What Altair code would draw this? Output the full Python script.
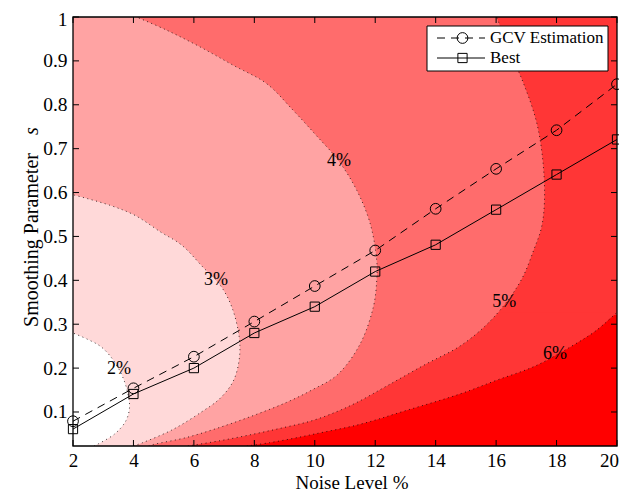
import altair as alt
import pandas as pd

# ---------------- data ----------------
noise = [2, 4, 6, 8, 10, 12, 14, 16, 18, 20]
gcv = [0.079, 0.154, 0.226, 0.306, 0.387, 0.468, 0.563, 0.654, 0.742, 0.847]
best = [0.061, 0.141, 0.200, 0.280, 0.340, 0.420, 0.481, 0.561, 0.641, 0.721]

x_ticks = [2, 4, 6, 8, 10, 12, 14, 16, 18, 20]
y_ticks = [0.1, 0.2, 0.3, 0.4, 0.5, 0.6, 0.7, 0.8, 0.9, 1.0]

# contour boundaries (x as a function of s)
c2_y = [0.0225, 0.05, 0.08, 0.11, 0.14, 0.17, 0.20, 0.23, 0.25, 0.265, 0.28]
c2_x = [2.7, 3.38, 3.75, 3.87, 3.82, 3.70, 3.50, 3.20, 2.90, 2.50, 2.0]

c3_y = [0.0225, 0.03, 0.06, 0.10, 0.13, 0.17, 0.22, 0.27, 0.34, 0.39, 0.43, 0.48, 0.51, 0.548, 0.571, 0.595]
c3_x = [4.0, 4.3, 5.3, 6.25, 6.85, 7.3, 7.5, 7.5, 7.25, 6.86, 6.3, 5.6, 4.9, 4.05, 3.22, 2.0]

c4_y = [0.0225, 0.026, 0.042, 0.065, 0.092, 0.122, 0.15, 0.185, 0.255, 0.34, 0.40, 0.445, 0.53, 0.605,
        0.673, 0.73, 0.787, 0.848, 0.89, 0.932, 0.97, 1.0]
c4_x = [4.5, 4.66, 5.76, 6.86, 7.97, 9.07, 9.9, 10.75, 11.5, 11.94, 12.05, 12.05, 11.83, 11.39,
        10.78, 10.05, 9.29, 8.41, 7.3, 6.2, 5.1, 4.1]

c5_y = [0.0225, 0.035, 0.05, 0.065, 0.08, 0.10, 0.122, 0.16, 0.21, 0.25, 0.30, 0.36, 0.41, 0.47,
        0.52, 0.58, 0.67, 0.76, 0.85, 0.92, 1.0]
c5_x = [5.8, 6.9, 8.0, 9.0, 9.9, 10.7, 11.4, 12.4, 13.7, 14.8, 15.7, 16.45, 16.9, 17.25,
        17.5, 17.6, 17.55, 17.34, 16.9, 16.46, 16.02]

c6_y = [0.0225, 0.03, 0.04, 0.05, 0.072, 0.103, 0.141, 0.172, 0.205, 0.25, 0.285, 0.327]
c6_x = [7.75, 8.5, 9.3, 10.0, 11.5, 13.0, 14.8, 16.0, 17.3, 18.5, 19.3, 20.0]

lab_text = ["2%", "3%", "4%", "5%", "6%"]
lab_x = [3.52, 6.73, 10.8, 16.27, 17.95]
lab_y = [0.199, 0.400, 0.673, 0.350, 0.233]

fills = ["#FFFFFF", "#FFD9D9", "#FFA3A3", "#FF6C6C", "#FF3636", "#FF0000"]

# ---------------- layout ----------------
X0, X1 = 2, 20
Y0, Y1 = 0.0225, 1.0
W, H = 544, 429
FONT = "Liberation Serif"
CURVE = "catmull-rom"

xs = alt.Scale(domain=[X0, X1], nice=False, zero=False)
ys = alt.Scale(domain=[Y0, Y1], nice=False, zero=False)

xa = alt.Axis(values=x_ticks, ticks=False, tickSize=0, domain=False, grid=False, title=None,
              labelFont=FONT, labelFontSize=19, labelColor="black", labelPadding=5,
              labelFlush=False, labelOverlap=False,
              labelOffset={"condition": {"test": "datum.value == 20", "value": -8}, "value": 0})
ya = alt.Axis(values=y_ticks, format="~g", ticks=False, tickSize=0, domain=False, grid=False, title=None,
              labelFont=FONT, labelFontSize=19.5, labelColor="black", labelPadding=6,
              labelFlush=False, labelOverlap=False,
              labelOffset={"condition": {"test": "datum.value == 1", "value": 2}, "value": 0})


def X(f):
    return alt.X(f, type="quantitative", scale=xs, axis=xa)


def Y(f):
    return alt.Y(f, type="quantitative", scale=ys, axis=ya)


def region(xv, yv, color, curve=CURVE):
    df = pd.DataFrame({"x": xv, "y": yv, "x0": [X0] * len(xv)})
    return alt.Chart(df).mark_area(orient="horizontal", fill=color, fillOpacity=1,
                                   interpolate=curve, clip=True).encode(
        y=Y("y"), x=X("x"), x2="x0:Q")


def cline(xv, yv):
    df = pd.DataFrame({"x": xv, "y": yv, "i": list(range(len(xv)))})
    return alt.Chart(df).mark_line(color="black", strokeWidth=1, strokeDash=[1, 3.5],
                                   opacity=0.75, clip=True, interpolate=CURVE).encode(
        y=Y("y"), x=X("x"), order="i:Q")


layers = []
# full-width strip above where the 6% contour meets the right edge (slight overlap hides the seam)
layers.append(region([X1, X1], [c6_y[-1] - 0.006, Y1], fills[4], "linear"))
layers.append(region(c6_x, c6_y, fills[4]))
layers.append(region(c5_x, c5_y, fills[3]))
layers.append(region(c4_x, c4_y, fills[2]))
layers.append(region(c3_x, c3_y, fills[1]))
layers.append(region(c2_x, c2_y, fills[0]))
for cx, cy in [(c2_x, c2_y), (c3_x, c3_y), (c4_x, c4_y), (c5_x, c5_y), (c6_x, c6_y)]:
    layers.append(cline(cx, cy))

labs = pd.DataFrame({"t": lab_text, "x": lab_x, "y": lab_y})
layers.append(alt.Chart(labs).mark_text(font=FONT, fontSize=18, color="black",
                                        align="center", baseline="middle").encode(
    x=X("x"), y=Y("y"), text="t:N"))

df_g = pd.DataFrame({"x": noise, "y": gcv})
df_b = pd.DataFrame({"x": noise, "y": best})
layers.append(alt.Chart(df_g).mark_line(color="black", strokeWidth=1, strokeDash=[8, 6]).encode(
    x=X("x"), y=Y("y")))
layers.append(alt.Chart(df_g).mark_point(shape="circle", filled=False, color="black",
                                         size=115, strokeWidth=1, opacity=1).encode(
    x=X("x"), y=Y("y")))
layers.append(alt.Chart(df_b).mark_line(color="black", strokeWidth=1).encode(
    x=X("x"), y=Y("y")))
layers.append(alt.Chart(df_b).mark_point(shape="square", filled=False, color="black",
                                         size=85, strokeWidth=1, opacity=1).encode(
    x=X("x"), y=Y("y")))

# inward ticks on all four sides
dxt = pd.DataFrame({"v": x_ticks})
dyt = pd.DataFrame({"v": y_ticks})
layers.append(alt.Chart(dxt).mark_rule(color="black", strokeWidth=1).encode(
    x=X("v"), y=alt.value(H), y2=alt.value(H - 6)))
layers.append(alt.Chart(dxt).mark_rule(color="black", strokeWidth=1).encode(
    x=X("v"), y=alt.value(0), y2=alt.value(6)))
layers.append(alt.Chart(dyt).mark_rule(color="black", strokeWidth=1).encode(
    y=Y("v"), x=alt.value(0), x2=alt.value(6)))
layers.append(alt.Chart(dyt).mark_rule(color="black", strokeWidth=1).encode(
    y=Y("v"), x=alt.value(W), x2=alt.value(W - 6)))

one = pd.DataFrame({"a": [0]})
# frame
layers.append(alt.Chart(one).mark_rect(fillOpacity=0, stroke="black", strokeWidth=1.3).encode(
    x=alt.value(0), x2=alt.value(W), y=alt.value(0), y2=alt.value(H)))

# legend
layers.append(alt.Chart(one).mark_rect(fill="white", stroke="black", strokeWidth=1).encode(
    x=alt.value(354), x2=alt.value(535), y=alt.value(9), y2=alt.value(54)))
layers.append(alt.Chart(one).mark_rule(color="black", strokeWidth=1, strokeDash=[8, 6]).encode(
    x=alt.value(364), x2=alt.value(412), y=alt.value(21)))
layers.append(alt.Chart(one).mark_point(shape="circle", filled=False, color="black",
                                        size=115, strokeWidth=1, opacity=1).encode(
    x=alt.value(389.5), y=alt.value(21)))
layers.append(alt.Chart(one).mark_rule(color="black", strokeWidth=1).encode(
    x=alt.value(364), x2=alt.value(412), y=alt.value(41)))
layers.append(alt.Chart(one).mark_point(shape="square", filled=False, color="black",
                                        size=85, strokeWidth=1, opacity=1).encode(
    x=alt.value(389.5), y=alt.value(41)))
layers.append(alt.Chart(one).mark_text(font=FONT, fontSize=17, color="black", align="left",
                                       baseline="middle").encode(
    x=alt.value(417), y=alt.value(21), text=alt.value("GCV Estimation")))
layers.append(alt.Chart(one).mark_text(font=FONT, fontSize=17, color="black", align="left",
                                       baseline="middle").encode(
    x=alt.value(417), y=alt.value(41), text=alt.value("Best")))

# axis titles
layers.append(alt.Chart(one).mark_text(font=FONT, fontSize=19, color="black", align="center",
                                       baseline="alphabetic").encode(
    x=alt.value(279), y=alt.value(471.5), text=alt.value("Noise Level %")))
layers.append(alt.Chart(one).mark_text(font=FONT, fontSize=20, color="black", align="center",
                                       baseline="alphabetic", angle=270).encode(
    x=alt.value(-35), y=alt.value(223), text=alt.value("Smoothing Parameter")))
layers.append(alt.Chart(one).mark_text(font=FONT, fontSize=20, color="black", align="center",
                                       baseline="alphabetic", angle=270, fontStyle="italic").encode(
    x=alt.value(-35), y=alt.value(114), text=alt.value("s")))

chart = alt.layer(*layers).properties(
    width=W, height=H,
    autosize=alt.AutoSizeParams(type="none"),
    padding={"left": 65, "top": 9, "right": 2, "bottom": 46},
    background="white",
).configure_view(fill=fills[5], stroke=None)

chart.save("out.html", embed_options={"renderer": "svg", "actions": False})
